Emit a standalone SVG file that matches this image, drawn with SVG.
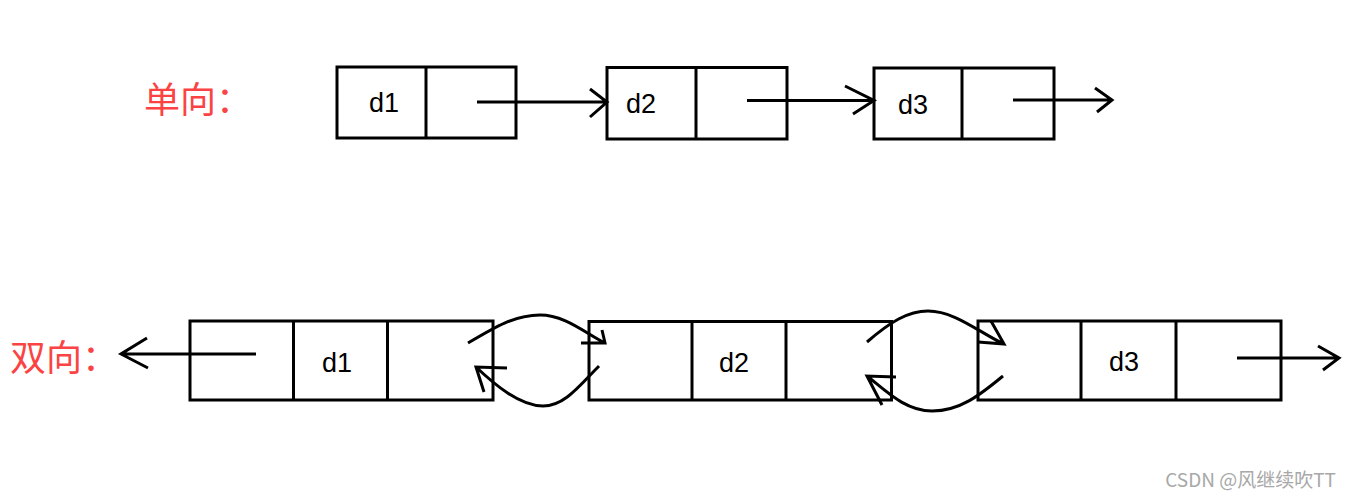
<svg xmlns="http://www.w3.org/2000/svg" width="1351" height="497" viewBox="0 0 1351 497">
<style>
.box{fill:none;stroke:#000;stroke-width:3}
.ln{fill:none;stroke:#000;stroke-width:3;stroke-linecap:butt;stroke-linejoin:miter}
.t{font-family:"Liberation Sans",Arial,sans-serif;font-size:27px;fill:#000}
.lab{font-family:"Noto Sans CJK SC","Liberation Sans",sans-serif;font-size:36px;fill:#fb4343}
.wm{font-family:"Noto Sans CJK SC","Liberation Sans",sans-serif;font-size:19px;fill:#a8a8a8}
</style>
<rect width="1351" height="497" fill="#fff"/>
<text class="lab" x="144" y="113">单向：</text>
<text class="lab" x="10" y="371">双向：</text>
<g id="s1"><rect class="box" x="337" y="67" width="179" height="71"/><line class="ln" x1="426" y1="67" x2="426" y2="138"/><text class="t" x="369" y="112">d1</text></g>
<g id="s2"><rect class="box" x="607" y="67.5" width="180" height="71.5"/><line class="ln" x1="696" y1="67.5" x2="696" y2="139"/><text class="t" x="626" y="113">d2</text></g>
<g id="s3"><rect class="box" x="874" y="68" width="180" height="71"/><line class="ln" x1="962" y1="68" x2="962" y2="139"/><text class="t" x="898" y="114">d3</text></g>
<g id="d1"><rect class="box" x="190" y="321" width="303" height="79"/><line class="ln" x1="293.5" y1="321" x2="293.5" y2="400"/><line class="ln" x1="387.5" y1="321" x2="387.5" y2="400"/><text class="t" x="322" y="372">d1</text></g>
<g id="d2"><rect class="box" x="589" y="321.5" width="302.5" height="78.5"/><line class="ln" x1="692" y1="321.5" x2="692" y2="400"/><line class="ln" x1="786" y1="321.5" x2="786" y2="400"/><text class="t" x="719" y="372">d2</text></g>
<g id="d3"><rect class="box" x="978" y="321" width="303" height="79"/><line class="ln" x1="1081" y1="321" x2="1081" y2="400"/><line class="ln" x1="1176" y1="321" x2="1176" y2="400"/><text class="t" x="1109" y="371">d3</text></g>
<g id="connectors">
<path class="ln" d="M477,102 L607,102 M590,89 L607,102 L590,117"/>
<path class="ln" d="M747,100.5 L874,100.5 M845,86 L874,100.5 L853,114"/>
<path class="ln" d="M1013,100 L1112,100 M1095,88 L1112,100 L1097,112"/>
<path class="ln" d="M256,354 L121,354 M147,338 L121,354 L148,368"/>
<path class="ln" d="M1237,358 L1339,358 M1318,346 L1339,358 L1323,370"/>
<path class="ln" d="M468,343 C495,327 515,315 540,315 C565,315 585,333 605,343 M602,330 L605,343 L581,343"/>
<path class="ln" d="M599,366 C580,385 565,406 543,406 C520,406 495,385 476,367 M507,368 L476,367 L484,392"/>
<path class="ln" d="M867,342 C890,322 908,311 928,311 C955,311 980,333 1004,344 M991,321 L1004,344 L978,342"/>
<path class="ln" d="M1003,376 C980,395 960,411 932,411 C905,411 885,390 867,376 M896,377 L867,376 L882,405"/>
</g>
<text class="wm" x="1336" y="487" text-anchor="end">CSDN @风继续吹TT</text>
</svg>
